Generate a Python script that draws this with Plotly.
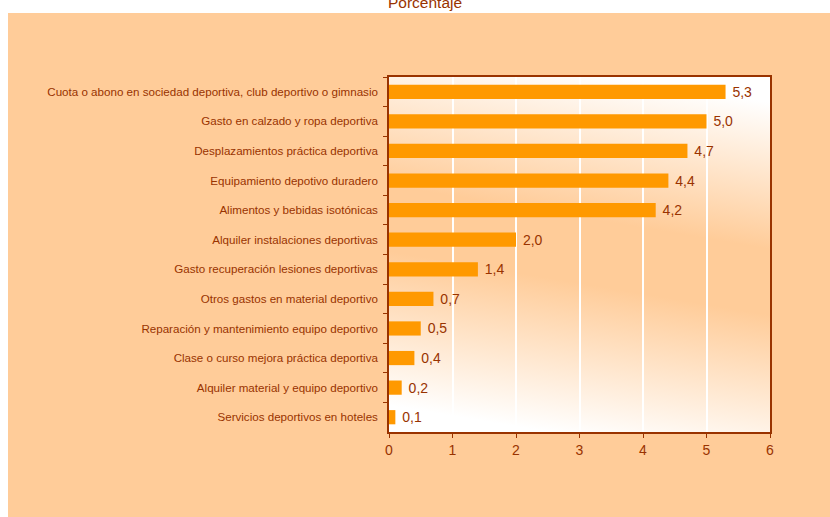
import base64
import plotly.graph_objects as go

categorias = [
    "Cuota o abono en sociedad deportiva, club deportivo o gimnasio",
    "Gasto en calzado y ropa deportiva",
    "Desplazamientos práctica deportiva",
    "Equipamiento depotivo duradero",
    "Alimentos y bebidas isotónicas",
    "Alquiler instalaciones deportivas",
    "Gasto recuperación lesiones deportivas",
    "Otros gastos en material deportivo",
    "Reparación y mantenimiento equipo deportivo",
    "Clase o curso mejora práctica deportiva",
    "Alquiler material y equipo deportivo",
    "Servicios deportivos en hoteles",
]
porcentajes = [5.3, 5.0, 4.7, 4.4, 4.2, 2.0, 1.4, 0.7, 0.5, 0.4, 0.2, 0.1]
ticks_x = [0, 1, 2, 3, 4, 5, 6]

W, H = 830, 517
L, R, T, B = 389, 770, 77, 432
marron = "#993300"
melocoton = "#FFCC99"
fuente = "Liberation Sans, Arial, sans-serif"

etiquetas = [f" {v:.1f}".replace(".", ",") for v in porcentajes]

# fondo degradado del area de trazado (svg como imagen)
svg = (
    "<svg xmlns='http://www.w3.org/2000/svg' width='100' height='100' preserveAspectRatio='none'>"
    "<defs><linearGradient id='g' x1='0.6' y1='0' x2='0.42' y2='1'>"
    "<stop offset='0' stop-color='#FFFFFF'/>"
    "<stop offset='0.4' stop-color='#FFCC99'/>"
    "<stop offset='0.58' stop-color='#FFCC99'/>"
    "<stop offset='1' stop-color='#FFFFFF'/>"
    "</linearGradient></defs>"
    "<rect width='100' height='100' fill='url(#g)'/></svg>"
)
svg_uri = "data:image/svg+xml;base64," + base64.b64encode(svg.encode()).decode()

fig = go.Figure(go.Bar(
    x=porcentajes,
    y=categorias,
    orientation="h",
    marker=dict(color="#FF9900", line=dict(width=0)),
    text=etiquetas,
    textposition="outside",
    constraintext="none",
    textfont=dict(family=fuente, size=14, color=marron),
    cliponaxis=False,
))

pw, ph = R - L, B - T


def px_x(p):
    return (p - L) / pw


def px_y(p):
    return (B - p) / ph


fig.update_layout(
    width=W, height=H,
    margin=dict(l=L, r=W - R, t=T, b=H - B, pad=0),
    paper_bgcolor=melocoton,
    plot_bgcolor="rgba(0,0,0,0)",
    showlegend=False,
    bargap=0.52,
    font=dict(family=fuente, color=marron),
    images=[dict(source=svg_uri, xref="paper", yref="paper", x=0, y=1,
                 sizex=1, sizey=1, sizing="stretch", layer="below",
                 xanchor="left", yanchor="top")],
    shapes=[
        dict(type="rect", xref="paper", yref="paper", layer="below",
             x0=px_x(0), x1=px_x(W), y0=px_y(13), y1=px_y(-5),
             fillcolor="white", line=dict(width=0)),
        dict(type="rect", xref="paper", yref="paper", layer="below",
             x0=px_x(-5), x1=px_x(8), y0=px_y(H + 5), y1=px_y(-5),
             fillcolor="white", line=dict(width=0)),
    ],
    annotations=[dict(text="Porcentaje", xref="paper", yref="paper",
                      x=px_x(425), y=px_y(2.5), showarrow=False,
                      xanchor="center", yanchor="middle",
                      font=dict(family="Liberation Sans Narrow, Arial Narrow, sans-serif",
                                size=15.5, color=marron))],
)

fig.update_xaxes(
    range=[0, 6], tickvals=ticks_x, ticktext=[str(t) for t in ticks_x],
    showgrid=True, gridcolor="white", gridwidth=1.5,
    showline=True, linecolor=marron, linewidth=1.5, mirror=True,
    ticks="outside", ticklen=4, tickcolor=marron,
    tickfont=dict(family=fuente, size=14, color=marron),
    zeroline=False, fixedrange=True,
)
fig.update_yaxes(
    categoryorder="array", categoryarray=categorias, autorange="reversed",
    showgrid=False,
    showline=True, linecolor=marron, linewidth=1.5, mirror=True,
    ticks="outside", ticklen=4, tickcolor=marron, tickson="boundaries",
    tickfont=dict(family=fuente, size=11.6, color=marron),
    ticklabelstandoff=7, fixedrange=True,
)

# sin margen de pagina, la figura ocupa toda la ventana
fig.write_html("out.html", config={"displayModeBar": False},
               post_script="document.body.style.margin='0';")
